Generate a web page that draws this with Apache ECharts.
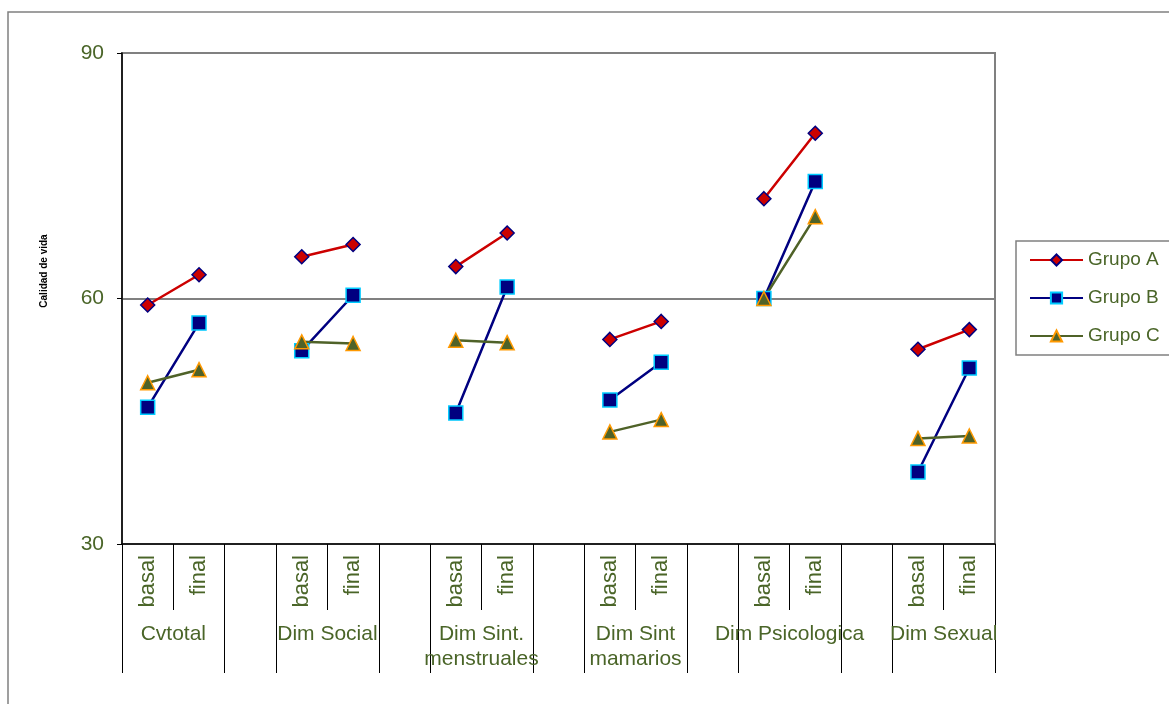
<!DOCTYPE html>
<html>
<head>
<meta charset="utf-8">
<script src="https://cdn.jsdelivr.net/npm/echarts@6/dist/echarts.min.js"></script>
<style>
  html, body { margin: 0; padding: 0; background: #fff; }
  #chart { width: 1169px; height: 704px; }
</style>
</head>
<body>
<div id="chart"></div>
<script>
// Quality-of-life scores per dimension, before (basal) and after (final)
const dimensions = ['Cvtotal', 'Dim Social', 'Dim Sint.\nmenstruales', 'Dim Sint\nmamarios', 'Dim Psicologica', 'Dim Sexual'];
const phases = ['basal', 'final'];
const seriesNames = ['Grupo A', 'Grupo B', 'Grupo C'];
// basal, final pairs in dimension order
const grupoA = [59.2, 62.9, 65.1, 66.6, 63.9, 68.0, 55.0, 57.2, 72.2, 80.2, 53.8, 56.2];
const grupoB = [46.7, 57.0, 53.6, 60.4, 46.0, 61.4, 47.6, 52.2, 60.0, 74.3, 38.8, 51.5];
const grupoC = [49.7, 51.3, 54.7, 54.5, 54.9, 54.6, 43.7, 45.2, 60.0, 70.0, 42.9, 43.2];
const yTicks = [30, 60, 90];

const TEXT = '#4A6528';

// Category slots: basal, final, spacer per dimension (no spacer after the last)
const slots = [];
dimensions.forEach((d, i) => {
  phases.forEach(p => slots.push(p));
  if (i < dimensions.length - 1) slots.push('');
});

// Spread a basal/final pair list onto the slot layout, with gaps between dimensions
function toSlots(values) {
  const out = [];
  dimensions.forEach((d, i) => {
    out.push(values[2 * i], values[2 * i + 1]);
    if (i < dimensions.length - 1) out.push(null);
  });
  return out;
}

// Half-slot axis used to centre each dimension name under its basal/final pair
const halfSlots = [];
for (let i = 0; i <= slots.length * 2; i++) halfSlots.push('');
dimensions.forEach((d, i) => { halfSlots[6 * i + 2] = d; });

const chart = echarts.init(document.getElementById('chart'), null, { renderer: 'canvas' });

const styles = [
  { color: '#CC0000', symbol: 'diamond', size: 14, border: '#000080' },
  { color: '#000080', symbol: 'rect', size: 14, border: '#00CCFF' },
  { color: '#4F6228', symbol: 'triangle', size: 14, border: '#FF9900' }
];
const dataSets = [grupoA, grupoB, grupoC];

chart.setOption({
  animation: false,
  backgroundColor: '#fff',
  graphic: [
    {
      type: 'rect', z: -1,
      shape: { x: 8, y: 12, width: 1200, height: 760 },
      style: { fill: 'none', stroke: '#808080', lineWidth: 1.5 }
    },
    {
      type: 'text',
      x: 44, y: 271, rotation: Math.PI / 2,
      style: {
        text: 'Calidad de vida', fill: '#000',
        font: 'bold 10px "Liberation Sans", Arial, sans-serif',
        align: 'center', verticalAlign: 'middle'
      }
    }
  ],
  grid: {
    left: 122, right: 174, top: 53, bottom: 160,
    show: true, borderColor: '#808080', borderWidth: 2, backgroundColor: 'transparent'
  },
  legend: {
    orient: 'vertical',
    left: 1016, top: 241,
    padding: [9, 13, 9, 13],
    itemWidth: 53, itemHeight: 14, itemGap: 18,
    borderColor: '#808080', borderWidth: 1.5,
    textStyle: { color: TEXT, fontSize: 19, fontFamily: 'Liberation Sans', lineHeight: 20 },
    data: seriesNames
  },
  xAxis: [
    {
      type: 'category', data: slots, boundaryGap: true, position: 'bottom',
      axisLine: { show: true, lineStyle: { color: '#000', width: 1.5 } },
      axisTick: { show: true, interval: 0, length: 66, lineStyle: { color: '#000', width: 1 } },
      axisLabel: {
        interval: 0, rotate: 90, margin: 11,
        color: TEXT, fontSize: 22, fontFamily: 'Liberation Sans'
      },
      splitLine: { show: false }
    },
    {
      type: 'category', data: slots, boundaryGap: true, position: 'bottom',
      axisLine: { show: false },
      axisTick: {
        show: true,
        interval: (i) => i % 3 !== 1,
        length: 129, lineStyle: { color: '#000', width: 1 }
      },
      axisLabel: { show: false },
      splitLine: { show: false }
    },
    {
      type: 'category', data: halfSlots, boundaryGap: false, position: 'bottom',
      axisLine: { show: false },
      axisTick: { show: false },
      axisLabel: {
        interval: 0, margin: 78, align: 'center',
        color: TEXT, fontSize: 21, lineHeight: 25, fontFamily: 'Liberation Sans'
      },
      splitLine: { show: false }
    }
  ],
  yAxis: {
    type: 'value', min: yTicks[0], max: yTicks[yTicks.length - 1], interval: yTicks[1] - yTicks[0],
    axisLine: { show: true, lineStyle: { color: '#000', width: 1.5 } },
    axisTick: { show: true, length: 5, lineStyle: { color: '#000', width: 1 } },
    axisLabel: { margin: 18, color: TEXT, fontSize: 21, fontFamily: 'Liberation Sans' },
    splitLine: { show: true, lineStyle: { color: '#808080', width: 2 } }
  },
  series: seriesNames.map((name, k) => ({
    name: name,
    type: 'line',
    xAxisIndex: 0,
    data: toSlots(dataSets[k]),
    connectNulls: false,
    symbol: styles[k].symbol,
    symbolSize: styles[k].size,
    showSymbol: true,
    lineStyle: { color: styles[k].color, width: 2.5 },
    itemStyle: { color: styles[k].color, borderColor: styles[k].border, borderWidth: 1.5 },
    emphasis: { disabled: true }
  }))
});
</script>
</body>
</html>
